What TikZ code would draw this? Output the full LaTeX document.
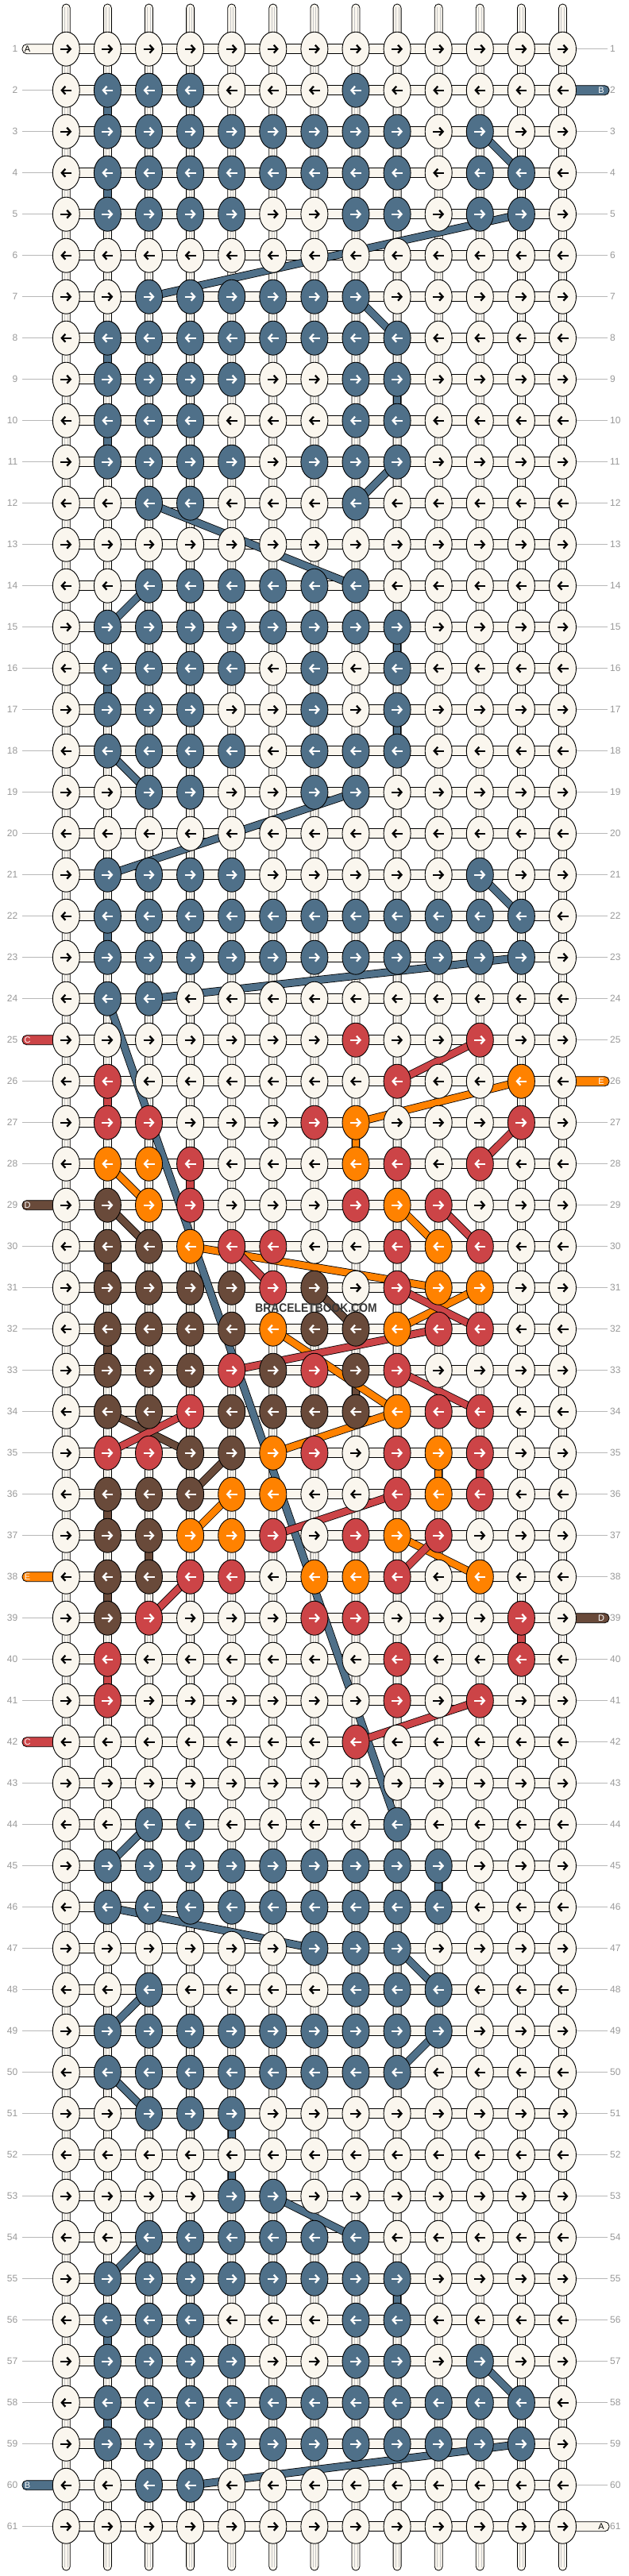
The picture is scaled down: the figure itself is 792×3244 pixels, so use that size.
\documentclass[tikz,border=0pt]{standalone}
\usepackage{fontspec}
\setmainfont{Liberation Sans}
\usetikzlibrary{shapes.geometric,arrows.meta}

\definecolor{cw}{HTML}{FAF6EE}
\definecolor{cb}{HTML}{4F7089}
\definecolor{cr}{HTML}{CC4447}
\definecolor{co}{HTML}{FF8200}
\definecolor{cd}{HTML}{694A3A}

\pgfdeclarelayer{strands}
\pgfdeclarelayer{links}
\pgfsetlayers{strands,links,main}

\begin{document}
\begin{tikzpicture}[
    x=1pt, y=-1pt,
    knot/.style={ellipse, draw=black, line width=0.9pt, minimum width=34pt, minimum height=43pt, inner sep=0pt},
    knotarrow/.style={line width=2.3pt, -{Straight Barb[length=4.5pt,width=10pt]}},
    arw/.style={draw=black}, arb/.style={draw=white}, arr/.style={draw=white},
    aro/.style={draw=white}, ard/.style={draw=white},
    vstring/.style={draw=black, line width=0.8pt, fill=cw, rounded corners=5pt},
    vthread/.style={draw=black!22, line width=0.6pt},
    hstring/.style={draw=black, line width=0.8pt, fill=cw},
    link/.style={draw=black, line width=0.8pt, double distance=8.4pt},
    rowline/.style={draw=black!28, line width=0.8pt},
    rowlabel/.style={text=black!40, font=\fontsize{12}{12}\selectfont, inner sep=0pt},
    tab/.style={draw=black, line width=0.8pt, rounded corners=5.5pt},
    tabletter/.style={font=\fontsize{11}{11}\selectfont, inner sep=0pt},
    brand/.style={font=\bfseries\fontsize{15.4}{15.4}\selectfont, text=black!78, inner sep=0pt, xscale=0.9, transform shape}
]
\useasboundingbox (0,0) rectangle (792,3244);

% Knots, one row of 13 per line
\foreach \row/\pat in {
  1/{w,w,w,w,w,w,w,w,w,w,w,w,w},
  2/{w,b,b,b,w,w,w,b,w,w,w,w,w},
  3/{w,b,b,b,b,b,b,b,b,w,b,w,w},
  4/{w,b,b,b,b,b,b,b,b,w,b,b,w},
  5/{w,b,b,b,b,w,w,b,b,w,b,b,w},
  6/{w,w,w,w,w,w,w,w,w,w,w,w,w},
  7/{w,w,b,b,b,b,b,b,w,w,w,w,w},
  8/{w,b,b,b,b,b,b,b,b,w,w,w,w},
  9/{w,b,b,b,b,w,w,b,b,w,w,w,w},
  10/{w,b,b,b,w,w,w,b,b,w,w,w,w},
  11/{w,b,b,b,b,w,b,b,b,w,w,w,w},
  12/{w,w,b,b,w,w,w,b,w,w,w,w,w},
  13/{w,w,w,w,w,w,w,w,w,w,w,w,w},
  14/{w,w,b,b,b,b,b,b,w,w,w,w,w},
  15/{w,b,b,b,b,b,b,b,b,w,w,w,w},
  16/{w,b,b,b,b,w,b,w,b,w,w,w,w},
  17/{w,b,b,b,w,w,b,w,b,w,w,w,w},
  18/{w,b,b,b,b,w,b,b,b,w,w,w,w},
  19/{w,w,b,b,w,w,b,b,w,w,w,w,w},
  20/{w,w,w,w,w,w,w,w,w,w,w,w,w},
  21/{w,b,b,b,b,w,w,w,w,w,b,w,w},
  22/{w,b,b,b,b,b,b,b,b,b,b,b,w},
  23/{w,b,b,b,b,b,b,b,b,b,b,b,w},
  24/{w,b,b,w,w,w,w,w,w,w,w,w,w},
  25/{w,w,w,w,w,w,w,r,w,w,r,w,w},
  26/{w,r,w,w,w,w,w,w,r,w,w,o,w},
  27/{w,r,r,w,w,w,r,o,w,w,w,r,w},
  28/{w,o,o,r,w,w,w,o,r,w,r,w,w},
  29/{w,d,o,r,w,w,w,r,o,r,w,w,w},
  30/{w,d,d,o,r,r,w,w,r,o,r,w,w},
  31/{w,d,d,d,d,r,d,w,r,o,o,w,w},
  32/{w,d,d,d,d,o,d,d,o,r,r,w,w},
  33/{w,d,d,d,r,d,r,d,r,w,w,w,w},
  34/{w,d,d,r,d,d,d,d,o,r,r,w,w},
  35/{w,r,r,d,d,o,r,w,r,o,r,w,w},
  36/{w,d,d,d,o,o,w,w,r,o,r,w,w},
  37/{w,d,d,o,o,r,w,r,o,r,w,w,w},
  38/{w,d,d,r,r,w,o,o,r,w,o,w,w},
  39/{w,d,r,w,w,w,r,r,w,w,w,r,w},
  40/{w,r,w,w,w,w,w,w,r,w,w,r,w},
  41/{w,r,w,w,w,w,w,w,r,w,r,w,w},
  42/{w,w,w,w,w,w,w,r,w,w,w,w,w},
  43/{w,w,w,w,w,w,w,w,w,w,w,w,w},
  44/{w,w,b,b,w,w,w,w,b,w,w,w,w},
  45/{w,b,b,b,b,b,b,b,b,b,w,w,w},
  46/{w,b,b,b,b,b,b,b,b,b,w,w,w},
  47/{w,w,w,w,w,w,b,b,b,w,w,w,w},
  48/{w,w,b,w,w,w,w,b,b,b,w,w,w},
  49/{w,b,b,b,b,b,b,b,b,b,w,w,w},
  50/{w,b,b,b,b,b,b,b,b,w,w,w,w},
  51/{w,w,b,b,b,w,w,w,w,w,w,w,w},
  52/{w,w,w,w,w,w,w,w,w,w,w,w,w},
  53/{w,w,w,w,b,b,w,w,w,w,w,w,w},
  54/{w,w,b,b,b,b,b,b,w,w,w,w,w},
  55/{w,b,b,b,b,b,b,b,b,w,w,w,w},
  56/{w,b,b,b,w,w,w,b,b,w,w,w,w},
  57/{w,b,b,b,b,w,w,b,b,w,b,w,w},
  58/{w,b,b,b,b,b,b,b,b,b,b,b,w},
  59/{w,b,b,b,b,b,b,b,b,b,b,b,w},
  60/{w,w,b,b,w,w,w,w,w,w,w,w,w},
  61/{w,w,w,w,w,w,w,w,w,w,w,w,w}} {
  \ifodd\row\relax \def\xa{-7}\def\xb{7}\else \def\xa{7}\def\xb{-7}\fi
  \foreach \knt [count=\col] in \pat {
    \node [knot, fill=c\knt] (k-\row-\col) at ({83.3+52.1*(\col-1)},{61.7+52*(\row-1)}) {};
    \draw [knotarrow, ar\knt] ([xshift=\xa pt]k-\row-\col.center) -- ([xshift=\xb pt]k-\row-\col.center);
  }
}

% Strings, row lines, labels and tabs
\begin{pgfonlayer}{strands}
\fill [white] (0,0) rectangle (792,3244);
\foreach \col in {1,...,13} {
  \pgfmathsetmacro\sx{83.3+52.1*(\col-1)}
  \draw [vstring] (\sx-5,5) rectangle (\sx+5,3237);
  \draw [vthread] (\sx-1.8,9) -- (\sx-1.8,3233);
  \draw [vthread] (\sx+1.8,9) -- (\sx+1.8,3233);
}
\foreach \row in {1,...,61} {
  \pgfmathsetmacro\py{61.7+52*(\row-1)}
  \draw [hstring] ([yshift=6pt]k-\row-1.center) rectangle ([yshift=-6pt]k-\row-13.center);
  \draw [rowline] (28,\py) -- (k-\row-1.center);
  \draw [rowline] (k-\row-13.center) -- (765,\py);
  \node [rowlabel, anchor=east] (ll-\row) at (22.5,\py) {\row};
  \node [rowlabel, anchor=west] (rl-\row) at (768,\py) {\row};
}
\foreach \row/\fc/\lt/\tc in {1/cw/A/black, 25/cr/C/white, 29/cd/D/white, 38/co/E/white, 42/cr/C/white, 60/cb/B/white} {
  \pgfmathsetmacro\py{61.7+52*(\row-1)}
  \draw [tab, fill=\fc] (75,\py-6) -- (28,\py-6) -- (28,\py+6) -- (75,\py+6);
  \node [tabletter, text=\tc] (lt-\row) at (34.5,\py) {\lt};
}
\foreach \row/\fc/\lt/\tc in {2/cb/B/white, 26/co/E/white, 39/cd/D/white, 61/cw/A/black} {
  \pgfmathsetmacro\py{61.7+52*(\row-1)}
  \draw [tab, fill=\fc] (700,\py-6) -- (767,\py-6) -- (767,\py+6) -- (700,\py+6);
  \node [tabletter, text=\tc] (rt-\row) at (757,\py) {\lt};
}
\end{pgfonlayer}

% Coloured threads running behind the knots
\begin{pgfonlayer}{links}
\foreach \a/\b in {2-2/3-2, 3-11/4-12, 4-2/5-2, 5-12/7-3, 7-8/8-9, 8-2/9-2, 9-9/10-9, 10-2/11-2,
    11-9/12-8, 12-3/14-8, 14-3/15-2, 15-9/16-9, 16-2/17-2, 17-9/18-9, 18-2/19-3, 19-8/21-2,
    21-11/22-12, 22-2/23-2, 23-12/24-3, 24-2/44-9, 44-3/45-2, 45-10/46-10, 46-2/47-7, 47-9/48-10,
    48-3/49-2, 49-10/50-9, 50-2/51-3, 51-5/53-5, 53-6/54-8, 54-3/55-2, 55-9/56-9, 56-2/57-2,
    57-11/58-12, 58-2/59-2, 59-12/60-4}
  \draw [link, double=cb] (k-\a.center) -- (k-\b.center);
\foreach \a/\b in {29-2/30-3, 30-2/31-2, 31-7/32-8, 32-2/33-2, 33-8/34-8, 34-2/35-4, 35-5/36-4,
    36-2/37-2, 37-3/38-3, 38-2/39-2}
  \draw [link, double=cd] (k-\a.center) -- (k-\b.center);
\foreach \a/\b in {26-12/27-8, 27-8/28-8, 28-2/29-3, 29-9/30-10, 30-4/31-10, 31-11/32-9, 32-6/34-9,
    34-9/35-6, 35-10/36-10, 36-5/37-4, 37-9/38-11}
  \draw [link, double=co] (k-\a.center) -- (k-\b.center);
\foreach \a/\b in {25-11/26-9, 26-2/27-2, 27-12/28-11, 28-4/29-4, 29-10/30-11, 30-5/31-6, 31-9/32-11,
    32-10/33-5, 33-9/34-11, 34-4/35-2, 35-11/36-11, 36-9/37-6, 37-10/38-9, 38-4/39-3, 39-12/40-12,
    40-2/41-2, 41-11/42-8}
  \draw [link, double=cr] (k-\a.center) -- (k-\b.center);
\end{pgfonlayer}

\node [brand] (brand) at (398,1647.5) {BRACELETBOOK.COM};

\end{tikzpicture}
\end{document}
